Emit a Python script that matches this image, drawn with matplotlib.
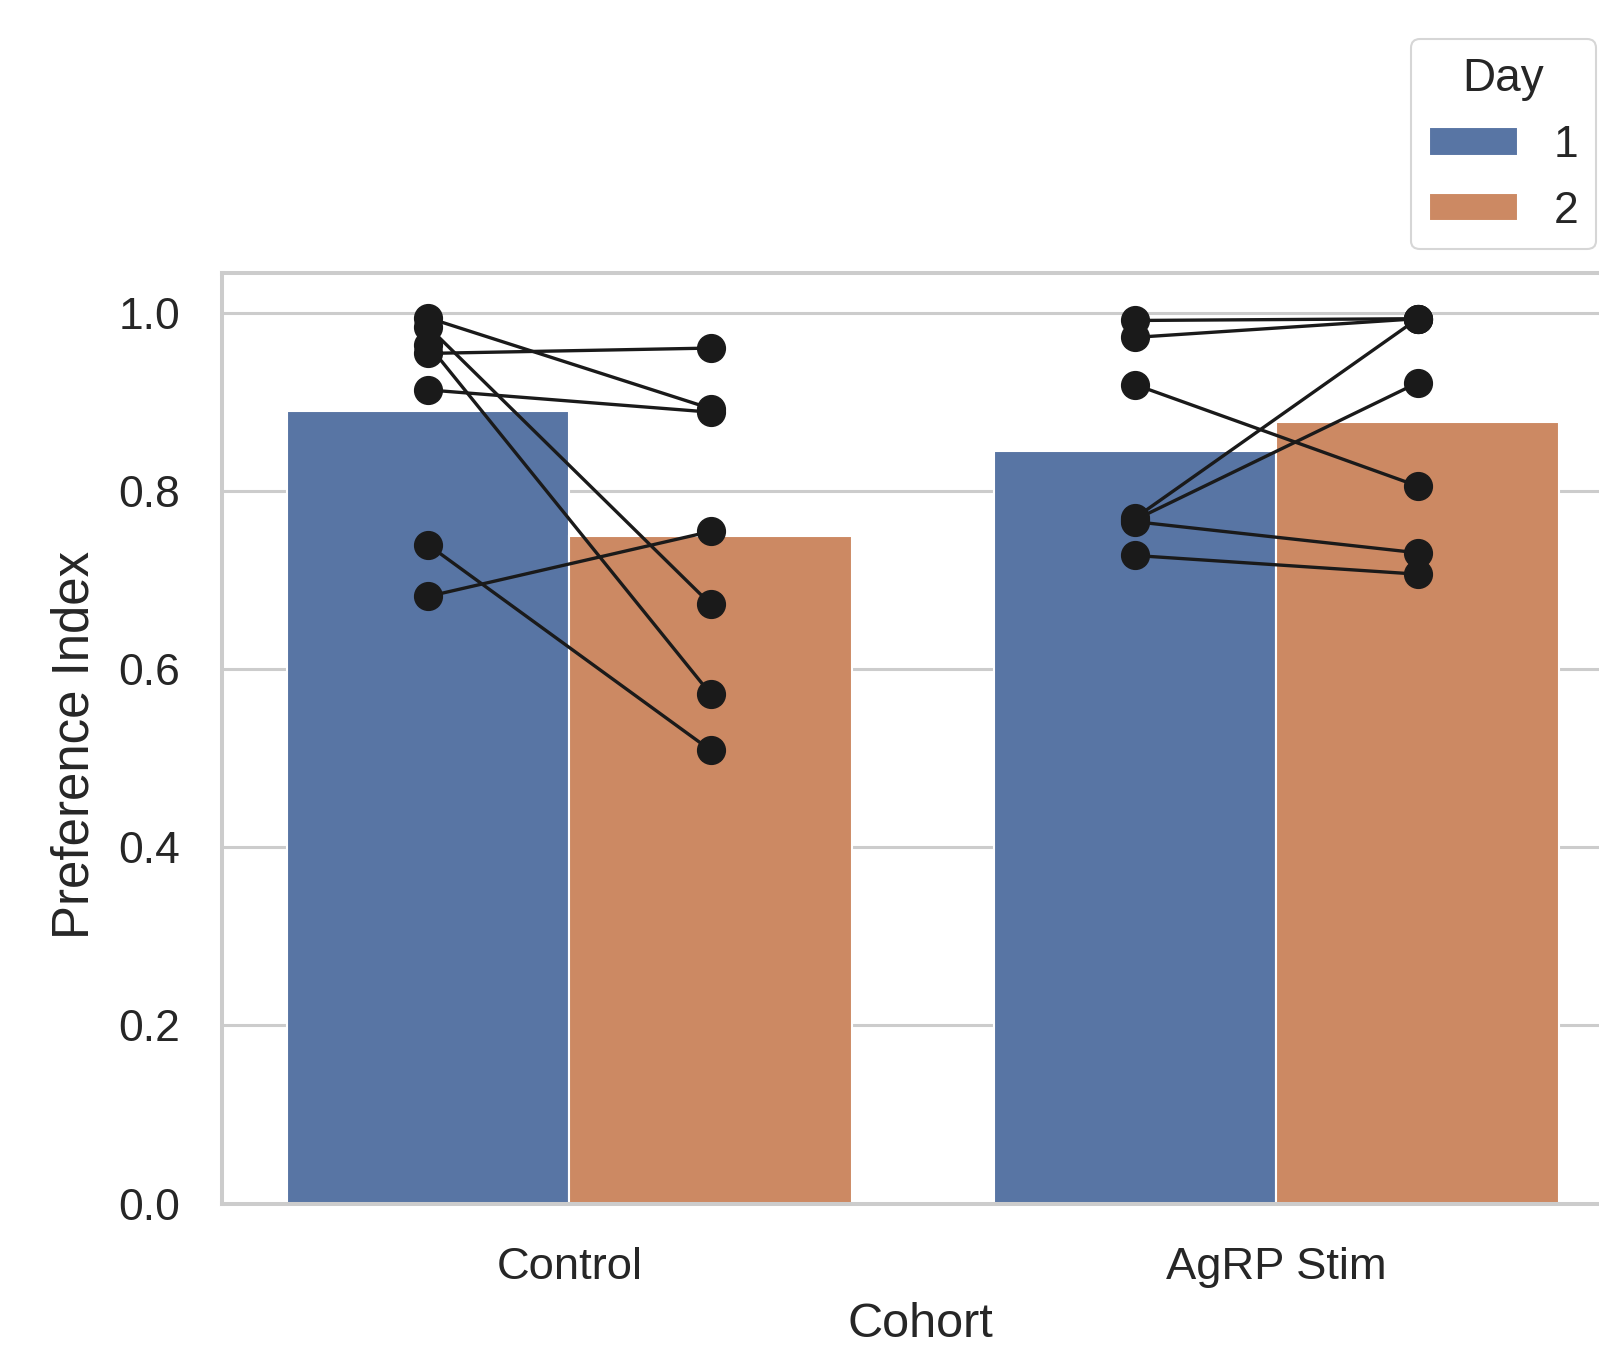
import numpy as np
import matplotlib
matplotlib.use("Agg")
import matplotlib.pyplot as plt

# Cohorts on the x axis and the two test days
cohorts = ["Control", "AgRP Stim"]
days = ["1", "2"]

# Per-animal preference index, paired by position (day 1 -> day 2)
control_day1 = [0.995, 0.985, 0.965, 0.955, 0.914, 0.740, 0.682]
control_day2 = [0.893, 0.673, 0.572, 0.961, 0.889, 0.509, 0.755]
agrp_day1 = [0.992, 0.973, 0.920, 0.770, 0.768, 0.766, 0.728]
agrp_day2 = [0.994, 0.994, 0.806, 0.994, 0.922, 0.731, 0.707]

ytick_values = [0.0, 0.2, 0.4, 0.6, 0.8, 1.0]

day_colors = ["#5875A4", "#CC8963"]
text_color = "#262626"
grid_color = "#cccccc"

plt.rcParams["font.family"] = ["Liberation Sans", "DejaVu Sans"]

groups = [(control_day1, control_day2), (agrp_day1, agrp_day2)]

fig = plt.figure(figsize=(15.99, 13.47), dpi=100)
ax = fig.add_axes([221.7 / 1599, (1347 - 1203.5) / 1347, 1408 / 1599, 930.2 / 1347])
ax.set_axisbelow(True)
ax.grid(axis="y", color=grid_color, linewidth=2.2)
ax.grid(axis="x", visible=False)
for spine in ax.spines.values():
    spine.set_color(grid_color)
    spine.set_linewidth(2.9)

x = np.arange(len(cohorts))
bar_width = 0.4
offsets = [-bar_width / 2, bar_width / 2]

# Mean bars for each day
for j, (day, color) in enumerate(zip(days, day_colors)):
    means = [np.mean(g[j]) for g in groups]
    ax.bar(x + offsets[j], means, width=bar_width, color=color,
           edgecolor="white", linewidth=1.5, label=day, zorder=2)

# Individual animals connected across days
for i, (d1, d2) in enumerate(groups):
    for a, b in zip(d1, d2):
        ax.plot([x[i] + offsets[0], x[i] + offsets[1]], [a, b],
                color="#1a1a1a", linewidth=2.4, marker="o", markersize=20,
                zorder=3)

ax.set_xlim(-0.492, 1.5)
ax.set_ylim(0, 1.045)
ax.set_yticks(ytick_values)
ax.set_yticklabels([f"{v:.1f}" for v in ytick_values])
ax.set_xticks(x)
ax.set_xticklabels(cohorts)
ax.tick_params(axis="both", length=0, labelcolor=text_color)
ax.tick_params(axis="y", pad=30, labelsize=32)
ax.tick_params(axis="x", pad=31.5, labelsize=32.7)

ax.set_xlabel("Cohort", fontsize=35, color=text_color, va="center")
ax.xaxis.set_label_coords(0.4962, -0.1305)
ax.set_ylabel("Preference Index", fontsize=36.7, color=text_color, va="center")
ax.yaxis.set_label_coords(-0.1045, 0.4934)

leg = ax.legend(title="Day", loc="upper right",
                bbox_to_anchor=(1596 / 1599, 1 - 39 / 1347),
                bbox_transform=fig.transFigure, borderaxespad=0,
                fontsize=32, title_fontsize=33, frameon=True, fancybox=True,
                handlelength=2.0, handleheight=0.6, labelspacing=0.55)
leg.get_frame().set_edgecolor(grid_color)
leg.get_frame().set_linewidth(1.5)
for t in leg.get_texts():
    t.set_color(text_color)
leg.get_title().set_color(text_color)

fig.savefig("out.png", dpi=100)
